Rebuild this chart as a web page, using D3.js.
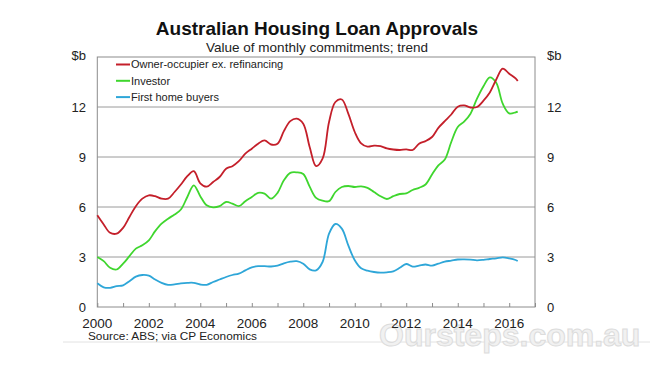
<!DOCTYPE html>
<html>
<head>
<meta charset="utf-8">
<script src="https://cdn.jsdelivr.net/npm/d3@7"></script>
<style>
  html, body { margin: 0; padding: 0; background: #fff; }
  svg { display: block; font-family: "Liberation Sans", Arial, sans-serif; }
</style>
</head>
<body>
<svg id="chart" width="650" height="366"></svg>
<script>
// ---- Data (quarterly readings, $b, trend) ----
const dates = [
  "2000-01","2000-04","2000-07","2000-10",
  "2001-01","2001-04","2001-07","2001-10",
  "2002-01","2002-04","2002-07","2002-10",
  "2003-01","2003-04","2003-07","2003-10",
  "2004-01","2004-04","2004-07","2004-10",
  "2005-01","2005-04","2005-07","2005-10",
  "2006-01","2006-04","2006-07","2006-10",
  "2007-01","2007-04","2007-07","2007-10",
  "2008-01","2008-04","2008-07","2008-10",
  "2009-01","2009-04","2009-07","2009-10",
  "2010-01","2010-04","2010-07","2010-10",
  "2011-01","2011-04","2011-07","2011-10",
  "2012-01","2012-04","2012-07","2012-10",
  "2013-01","2013-04","2013-07","2013-10",
  "2014-01","2014-04","2014-07","2014-10",
  "2015-01","2015-04","2015-07","2015-10",
  "2016-01","2016-04","2016-05"
];

const ownerOccupier = [
  5.5, 4.95, 4.45, 4.4,
  4.75, 5.4, 6.05, 6.5,
  6.7, 6.65, 6.5, 6.5,
  6.9, 7.35, 7.85, 8.15,
  7.42, 7.22, 7.5, 7.8,
  8.3, 8.45, 8.75, 9.2,
  9.5, 9.8, 10.0, 9.75,
  9.8, 10.55, 11.15, 11.3,
  11.0, 9.6, 8.45, 8.9,
  11.1, 12.3, 12.45, 11.6,
  10.5, 9.82, 9.62, 9.68,
  9.65, 9.52, 9.45, 9.42,
  9.46, 9.42, 9.8, 9.95,
  10.2, 10.75, 11.15, 11.55,
  12.02, 12.1, 11.97, 12.0,
  12.38, 12.87, 13.65, 14.3,
  14.0, 13.72, 13.56
];

const investor = [
  3.0, 2.75, 2.35, 2.25,
  2.6, 3.05, 3.5, 3.7,
  4.0, 4.55, 5.0, 5.3,
  5.55, 5.85, 6.6, 7.3,
  6.65, 6.1, 5.98, 6.05,
  6.3, 6.2, 6.05, 6.35,
  6.6, 6.85, 6.8, 6.5,
  6.85, 7.6, 8.05, 8.08,
  7.98, 7.22, 6.55, 6.38,
  6.35, 6.9, 7.2, 7.26,
  7.2, 7.24, 7.15, 6.9,
  6.65, 6.48, 6.65, 6.78,
  6.82, 7.02, 7.15, 7.35,
  7.95, 8.5, 8.85, 9.9,
  10.8, 11.12, 11.6, 12.5,
  13.25, 13.78, 13.45, 12.2,
  11.62, 11.68, 11.72
];

const firstHomeBuyers = [
  1.42, 1.18, 1.15, 1.25,
  1.3, 1.55, 1.82, 1.92,
  1.88, 1.65, 1.45, 1.33,
  1.36, 1.42, 1.45, 1.45,
  1.35, 1.33, 1.5, 1.65,
  1.8, 1.92, 2.0, 2.2,
  2.38, 2.45, 2.45, 2.43,
  2.48, 2.62, 2.72, 2.75,
  2.6, 2.26, 2.2, 2.7,
  4.4, 4.98, 4.7, 3.7,
  2.8, 2.32, 2.18, 2.1,
  2.06, 2.08, 2.14, 2.35,
  2.58, 2.42, 2.48, 2.55,
  2.48, 2.6, 2.72, 2.78,
  2.85, 2.86, 2.84, 2.8,
  2.83, 2.88, 2.92, 2.98,
  2.92, 2.82, 2.76
];

const seriesNames = ["Owner-occupier ex. refinancing", "Investor", "First home buyers"];
const seriesColors = ["#c41f2a", "#3fd62e", "#2ea6d8"];
const yTicks = [0, 3, 6, 9, 12];
const xLabelYears = [2000, 2002, 2004, 2006, 2008, 2010, 2012, 2014, 2016];

const title = "Australian Housing Loan Approvals";
const subtitle = "Value of monthly commitments; trend";
const source = "Source: ABS; via CP Economics";
const unit = "$b";
const watermark = "Oursteps.com.au";

// ---- Layout ----
const svg = d3.select("#chart");
const plot = { left: 97.3, right: 535, top: 57, bottom: 307 };
const parse = d3.timeParse("%Y-%m");
const dateObjs = dates.map(parse);

const x = d3.scaleTime()
  .domain([new Date(2000, 0, 1), new Date(2017, 0, 1)])
  .range([plot.left, plot.right]);
const y = d3.scaleLinear().domain([0, 15]).range([plot.bottom, plot.top]);

// background line & watermark
svg.append("line")
  .attr("x1", 63).attr("x2", 650).attr("y1", 342).attr("y2", 342)
  .attr("stroke", "#e2e2e2").attr("stroke-width", 1);

svg.append("text")
  .attr("x", 379).attr("y", 346)
  .attr("font-size", 32).attr("font-weight", "bold")
  .attr("font-family", "'Liberation Sans', Arial, sans-serif")
  .attr("fill", "#f1f1f1").attr("stroke", "#dcdcdc").attr("stroke-width", 1)
  .text(watermark);

// gridlines
svg.append("g").selectAll("line").data(yTicks.filter(d => d > 0))
  .join("line")
  .attr("x1", plot.left).attr("x2", plot.right)
  .attr("y1", d => y(d)).attr("y2", d => y(d))
  .attr("stroke", "#9a9a9a").attr("stroke-width", 1);

// frame
svg.append("rect")
  .attr("x", plot.left).attr("y", plot.top)
  .attr("width", plot.right - plot.left).attr("height", plot.bottom - plot.top)
  .attr("fill", "none").attr("stroke", "#8c8c8c").attr("stroke-width", 1);

// x axis ticks (inward) via d3 axis
const xAxis = d3.axisTop(x)
  .ticks(d3.timeYear.every(1))
  .tickSize(4)
  .tickFormat("");
const gx = svg.append("g").attr("transform", `translate(0,${plot.bottom})`).call(xAxis);
gx.select(".domain").remove();
gx.selectAll("line").attr("stroke", "#8c8c8c");

// x labels
svg.append("g").selectAll("text").data(xLabelYears)
  .join("text")
  .attr("x", d => x(new Date(d, 0, 1)))
  .attr("y", 328)
  .attr("text-anchor", "middle")
  .attr("font-size", 13.5)
  .attr("fill", "#222")
  .text(d => d);

// y labels left & right
const yl = svg.append("g");
yl.selectAll("text.l").data(yTicks).join("text")
  .attr("class", "l")
  .attr("x", 86).attr("y", d => y(d)).attr("dy", "0.36em")
  .attr("text-anchor", "end").attr("font-size", 13).attr("fill", "#222")
  .text(d => d);
yl.selectAll("text.r").data(yTicks).join("text")
  .attr("class", "r")
  .attr("x", 547).attr("y", d => y(d)).attr("dy", "0.36em")
  .attr("text-anchor", "start").attr("font-size", 13).attr("fill", "#222")
  .text(d => d);
yl.append("text").attr("x", 86).attr("y", y(15)).attr("dy", "0.2em")
  .attr("text-anchor", "end").attr("font-size", 13).attr("fill", "#222").text(unit);
yl.append("text").attr("x", 547).attr("y", y(15)).attr("dy", "0.2em")
  .attr("text-anchor", "start").attr("font-size", 13).attr("fill", "#222").text(unit);

// lines
const allSeries = [ownerOccupier, investor, firstHomeBuyers];
const line = d3.line()
  .x((d, i) => x(dateObjs[i]))
  .y(d => y(d))
  .curve(d3.curveCatmullRom.alpha(0.5));

[2, 1, 0].forEach(k => {
  svg.append("path")
    .datum(allSeries[k])
    .attr("fill", "none")
    .attr("stroke", seriesColors[k])
    .attr("stroke-width", 1.8)
    .attr("stroke-linejoin", "round")
    .attr("d", line);
});

// legend
const lg = svg.append("g");
seriesNames.forEach((name, i) => {
  const yy = 64.5 + i * 16.3;
  lg.append("line").attr("x1", 116).attr("x2", 130).attr("y1", yy).attr("y2", yy)
    .attr("stroke", seriesColors[i]).attr("stroke-width", 2);
  lg.append("text").attr("x", 131).attr("y", yy).attr("dy", "0.36em")
    .attr("font-size", 11).attr("fill", "#222").text(name);
});

// titles
svg.append("text").attr("x", 317).attr("y", 35)
  .attr("text-anchor", "middle").attr("font-size", 19).attr("font-weight", "bold")
  .attr("fill", "#111").text(title);
svg.append("text").attr("x", 317).attr("y", 52)
  .attr("text-anchor", "middle").attr("font-size", 13.5)
  .attr("fill", "#222").text(subtitle);

// source
svg.append("text").attr("x", 88).attr("y", 339.5)
  .attr("font-size", 11.8).attr("fill", "#222").text(source);
</script>
</body>
</html>
